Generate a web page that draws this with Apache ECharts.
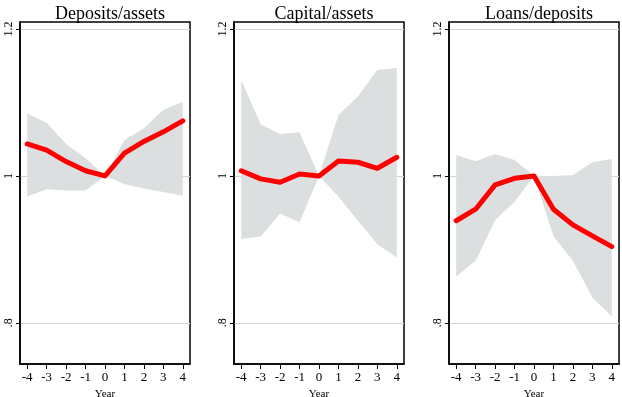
<!DOCTYPE html>
<html lang="en">
<head>
    <meta charset="UTF-8">
    <script src="https://cdn.jsdelivr.net/npm/echarts@6/dist/echarts.min.js"></script>
    <title>Event study</title>
</head>
<body style="margin:0;">
<div id="main" style="width: 622px;height:397px;"></div>
<script type="text/javascript">
    var years = [-4, -3, -2, -1, 0, 1, 2, 3, 4];
    var yTicks = [0.8, 1, 1.2];
    var titles = ['Deposits/assets', 'Capital/assets', 'Loans/deposits'];

    // Deposits / assets
    var depEst   = [1.0435, 1.035, 1.0195, 1.007, 1.0, 1.031, 1.047, 1.060, 1.075];
    var depUpper = [1.085, 1.0725, 1.0435, 1.024, 1.0, 1.049, 1.065, 1.090, 1.101];
    var depLower = [0.972, 0.982, 0.980, 0.980, 1.0, 0.989, 0.983, 0.978, 0.973];

    // Capital / assets
    var capEst   = [1.007, 0.996, 0.9914, 1.0027, 1.0, 1.0204, 1.0186, 1.0104, 1.0254];
    var capUpper = [1.1306, 1.0703, 1.057, 1.0594, 1.0, 1.083, 1.108, 1.144, 1.147];
    var capLower = [0.914, 0.9175, 0.949, 0.937, 1.0, 0.972, 0.939, 0.907, 0.889];

    // Loans / deposits
    var loanEst   = [0.939, 0.9547, 0.9878, 0.9968, 1.0, 0.9547, 0.9333, 0.9184, 0.9038];
    var loanUpper = [1.0286, 1.020, 1.030, 1.0218, 1.0, 1.0, 1.0014, 1.0186, 1.023];
    var loanLower = [0.863, 0.8844, 0.940, 0.965, 1.0, 0.918, 0.8844, 0.8344, 0.8086];

    var panels = [
        {est: depEst, upper: depUpper, lower: depLower},
        {est: capEst, upper: capUpper, lower: capLower},
        {est: loanEst, upper: loanUpper, lower: loanLower}
    ];
    var gridLefts = [20, 234, 449];
    var gridWidth = 170;
    var font = 'Liberation Serif';

    var myChart = echarts.init(document.getElementById('main'));

    // confidence band drawn as one polygon: upper bound forward, lower bound back
    function bandRenderer(p) {
        return function (params, api) {
            var pts = [];
            for (var j = 0; j < years.length; j++) {
                pts.push(api.coord([years[j], p.upper[j]]));
            }
            for (var k = years.length - 1; k >= 0; k--) {
                pts.push(api.coord([years[k], p.lower[k]]));
            }
            return {
                type: 'polygon',
                shape: {points: pts},
                style: {fill: '#dcdfdf', stroke: null}
            };
        };
    }

    var grids = [], xAxes = [], yAxes = [], series = [], titleList = [];
    for (var i = 0; i < panels.length; i++) {
        var p = panels[i];
        grids.push({
            left: gridLefts[i], width: gridWidth, top: 22, bottom: 33,
            outerBoundsMode: 'none', containLabel: false,
            show: true, borderColor: '#000', borderWidth: 1.5, backgroundColor: '#fff'
        });
        titleList.push({
            text: titles[i],
            left: gridLefts[i] + gridWidth / 2,
            textAlign: 'center',
            top: 0,
            textStyle: {fontFamily: font, fontSize: 18, fontWeight: 'normal', color: '#000'}
        });
        xAxes.push({
            type: 'value', gridIndex: i, min: -4.37, max: 4.37,
            name: 'Year', nameLocation: 'middle', nameGap: 20,
            nameTextStyle: {fontFamily: font, fontSize: 11, color: '#000'},
            axisLine: {show: true, onZero: false, lineStyle: {color: '#000', width: 1.5}},
            axisTick: {show: true, length: 5, customValues: years, lineStyle: {color: '#000'}},
            axisLabel: {customValues: years, fontFamily: font, fontSize: 13, color: '#000', margin: 7},
            splitLine: {show: false}
        });
        yAxes.push({
            type: 'value', gridIndex: i, min: 0.744, max: 1.2095,
            axisLine: {show: true, onZero: false, lineStyle: {color: '#000', width: 1.5}},
            axisTick: {show: true, length: 4, customValues: yTicks, lineStyle: {color: '#000'}},
            axisLabel: {
                customValues: yTicks, rotate: 90, fontFamily: font, fontSize: 12, color: '#000', margin: 5,
                formatter: function (v) {
                    return Math.abs(v - 0.8) < 1e-6 ? '.8' : (Math.abs(v - 1) < 1e-6 ? '1' : '1.2');
                }
            },
            splitLine: {show: true, lineStyle: {color: '#d4d4d4', width: 1}}
        });
        var estData = [];
        for (var j = 0; j < years.length; j++) {
            estData.push([years[j], p.est[j]]);
        }
        series.push({
            type: 'custom', xAxisIndex: i, yAxisIndex: i,
            data: [[0, 1]], renderItem: bandRenderer(p), silent: true, z: 1
        });
        series.push({
            type: 'line', xAxisIndex: i, yAxisIndex: i,
            data: estData, symbol: 'none', z: 3,
            lineStyle: {color: '#ff0000', width: 5, cap: 'round', join: 'round'}
        });
    }

    var option = {
        animation: false,
        backgroundColor: '#fff',
        title: titleList,
        grid: grids,
        xAxis: xAxes,
        yAxis: yAxes,
        series: series
    };
    myChart.setOption(option);
</script>
</body>
</html>
